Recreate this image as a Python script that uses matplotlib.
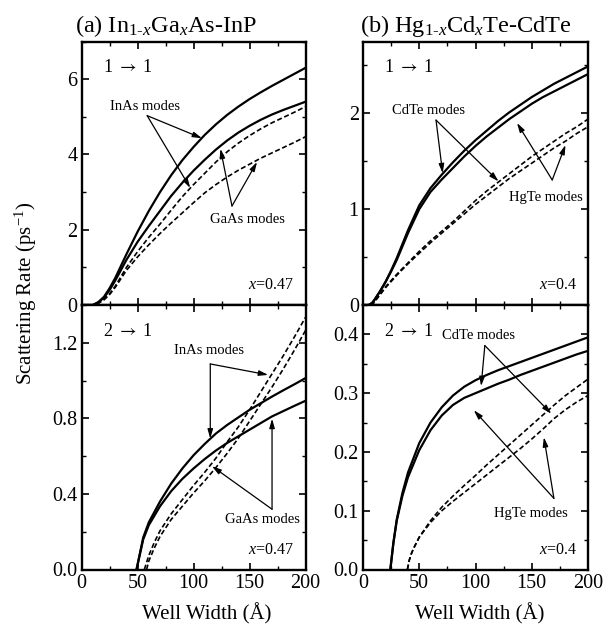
import matplotlib
matplotlib.use("Agg")
import matplotlib.pyplot as plt
from matplotlib.ticker import MultipleLocator

plt.rcParams['font.family'] = ['Liberation Serif', 'DejaVu Serif']
plt.rcParams['mathtext.fontset'] = 'custom'
plt.rcParams['mathtext.rm'] = 'Liberation Serif'
plt.rcParams['mathtext.it'] = 'Liberation Serif:italic'
plt.rcParams['mathtext.bf'] = 'Liberation Serif:bold'

# ---------------- data ----------------
# (a) In1-xGaxAs-InP, 1 -> 1
a11_x = [0, 10, 15, 20, 25, 30, 40, 50, 60, 70, 80, 90, 100, 110, 120, 130, 140, 150, 160, 170, 180, 190, 200]
a11_inas_solid = [0, 0, 0.08, 0.22, 0.45, 0.72, 1.35, 1.95, 2.5, 3.0, 3.45, 3.85, 4.2, 4.52, 4.8, 5.05, 5.27, 5.47, 5.65, 5.82, 5.98, 6.14, 6.3]
a11_gaas_solid = [0, 0, 0.07, 0.2, 0.4, 0.65, 1.2, 1.68, 2.1, 2.5, 2.9, 3.25, 3.57, 3.86, 4.13, 4.37, 4.58, 4.76, 4.92, 5.06, 5.18, 5.29, 5.4]
a11_inas_dash = [0, 0, 0.05, 0.15, 0.3, 0.5, 1.0, 1.42, 1.8, 2.15, 2.52, 2.88, 3.2, 3.5, 3.8, 4.07, 4.3, 4.5, 4.68, 4.84, 4.98, 5.12, 5.27]
a11_gaas_dash = [0, 0, 0.05, 0.14, 0.28, 0.47, 0.92, 1.28, 1.6, 1.9, 2.18, 2.45, 2.72, 2.98, 3.2, 3.4, 3.58, 3.74, 3.9, 4.04, 4.18, 4.32, 4.47]

# (a) 2 -> 1
a21_solid_x = [49, 55, 60, 70, 80, 90, 100, 110, 120, 130, 140, 150, 160, 170, 180, 190, 200]
a21_inas_solid = [0, 0.17, 0.25, 0.36, 0.455, 0.535, 0.605, 0.665, 0.72, 0.765, 0.805, 0.845, 0.88, 0.915, 0.948, 0.98, 1.013]
a21_gaas_solid = [0, 0.16, 0.235, 0.335, 0.415, 0.48, 0.535, 0.585, 0.63, 0.67, 0.705, 0.74, 0.775, 0.81, 0.838, 0.866, 0.893]
a21_inas_dash_x = [56, 60, 65, 70, 80, 90, 100, 110, 120, 130, 140, 150, 160, 170, 180, 190, 200]
a21_inas_dash = [0, 0.075, 0.145, 0.205, 0.295, 0.37, 0.445, 0.515, 0.59, 0.675, 0.755, 0.845, 0.94, 1.035, 1.13, 1.23, 1.335]
a21_gaas_dash_x = [58, 60, 65, 70, 80, 90, 100, 110, 120, 130, 140, 150, 160, 170, 180, 190, 200]
a21_gaas_dash = [0, 0.045, 0.115, 0.175, 0.265, 0.335, 0.405, 0.47, 0.54, 0.615, 0.695, 0.785, 0.875, 0.965, 1.06, 1.16, 1.265]

# (b) Hg1-xCdxTe-CdTe, 1 -> 1
b11_solid_x = [0, 5, 8, 10, 15, 20, 25, 30, 40, 50, 60, 70, 80, 90, 100, 110, 120, 130, 140, 150, 160, 170, 180, 190, 200]
b11_cdte_solid = [0, 0, 0.02, 0.05, 0.14, 0.24, 0.36, 0.49, 0.78, 1.04, 1.22, 1.36, 1.49, 1.61, 1.72, 1.82, 1.92, 2.01, 2.09, 2.17, 2.24, 2.31, 2.37, 2.43, 2.49]
b11_hgte_solid = [0, 0, 0.02, 0.05, 0.14, 0.24, 0.35, 0.47, 0.75, 1.0, 1.18, 1.31, 1.43, 1.55, 1.66, 1.76, 1.85, 1.94, 2.02, 2.1, 2.17, 2.23, 2.29, 2.35, 2.41]
b11_dash_x = [0, 5, 8, 10, 20, 30, 40, 50, 60, 70, 80, 90, 100, 110, 120, 130, 140, 150, 160, 170, 180, 190, 200]
b11_cdte_dash = [0, 0, 0, 0.03, 0.19, 0.32, 0.44, 0.56, 0.67, 0.77, 0.87, 0.98, 1.09, 1.19, 1.28, 1.37, 1.46, 1.55, 1.63, 1.71, 1.79, 1.86, 1.94]
b11_hgte_dash = [0, 0, 0, 0.03, 0.18, 0.31, 0.43, 0.54, 0.65, 0.75, 0.85, 0.95, 1.05, 1.14, 1.23, 1.32, 1.4, 1.48, 1.56, 1.64, 1.71, 1.79, 1.86]

# (b) 2 -> 1
b21_solid_x = [24.3, 27, 30, 35, 40, 50, 60, 70, 80, 90, 100, 110, 120, 130, 140, 150, 160, 170, 180, 190, 200]
b21_cdte_solid = [0, 0.045, 0.085, 0.13, 0.165, 0.215, 0.25, 0.276, 0.296, 0.311, 0.322, 0.331, 0.339, 0.346, 0.353, 0.36, 0.367, 0.374, 0.381, 0.388, 0.395]
b21_hgte_solid = [0, 0.045, 0.083, 0.125, 0.157, 0.203, 0.237, 0.262, 0.28, 0.292, 0.3, 0.308, 0.316, 0.323, 0.331, 0.338, 0.345, 0.352, 0.359, 0.366, 0.372]
b21_dash_x = [39.5, 41, 43, 45, 50, 60, 70, 80, 90, 100, 110, 120, 130, 140, 150, 160, 170, 180, 190, 200]
b21_cdte_dash = [0, 0.015, 0.027, 0.036, 0.055, 0.083, 0.106, 0.125, 0.143, 0.16, 0.178, 0.195, 0.212, 0.229, 0.246, 0.263, 0.28, 0.296, 0.31, 0.324]
b21_hgte_dash = [0, 0.015, 0.027, 0.036, 0.055, 0.08, 0.1, 0.116, 0.131, 0.146, 0.161, 0.176, 0.191, 0.206, 0.222, 0.239, 0.257, 0.272, 0.285, 0.296]

x_ticks = [0, 50, 100, 150, 200]
a11_yticks = [0, 2, 4, 6]
a21_yticks = [0.0, 0.4, 0.8, 1.2]
b11_yticks = [0, 1, 2]
b21_yticks = [0.0, 0.1, 0.2, 0.3, 0.4]

# ---------------- layout ----------------
W, H = 613, 631
fig = plt.figure(figsize=(W / 100, H / 100), dpi=100)


def rect(l, r, t, b):
    return [l / W, 1 - b / H, (r - l) / W, (b - t) / H]


ax_a1 = fig.add_axes(rect(81.7, 305.5, 41.5, 305))
ax_a2 = fig.add_axes(rect(81.7, 305.5, 305, 569.5))
ax_b1 = fig.add_axes(rect(363, 588, 41.5, 305))
ax_b2 = fig.add_axes(rect(363, 588, 305, 569.5))

SOLID = dict(color='black', lw=1.6, solid_capstyle='butt')
DASH = dict(color='black', lw=1.2, dashes=(3, 1.6))
ARROW = dict(arrowstyle='-|>,head_length=0.55,head_width=0.16', lw=0.9, color='black',
             shrinkA=0, shrinkB=0)
TFS = 14.5


def style(ax, ymax, yticks, fmt, minor, xlabels):
    ax.set_xlim(0, 200)
    ax.set_ylim(0, ymax)
    ax.set_xticks(x_ticks)
    ax.xaxis.set_minor_locator(MultipleLocator(25))
    ax.set_yticks(yticks)
    ax.set_yticklabels([fmt.format(v) for v in yticks])
    ax.yaxis.set_minor_locator(MultipleLocator(minor))
    ax.tick_params(which='both', direction='in', top=True, right=True, labelsize=TFS, pad=3)
    ax.tick_params(which='major', length=5, width=1.2)
    ax.tick_params(which='minor', length=3, width=1.0)
    if not xlabels:
        ax.tick_params(axis='x', labelbottom=False)
    for s in ax.spines.values():
        s.set_linewidth(1.7)


def arrows(ax, origin, tips):
    for t in tips:
        ax.annotate('', xy=t, xytext=origin, arrowprops=ARROW)


def label(ax, txt, xy):
    ax.text(xy[0], xy[1], txt, ha='center', va='center', fontsize=10.5)


# (a) top
ax = ax_a1
ax.plot(a11_x, a11_inas_solid, **SOLID)
ax.plot(a11_x, a11_gaas_solid, **SOLID)
ax.plot(a11_x, a11_inas_dash, **DASH)
ax.plot(a11_x, a11_gaas_dash, **DASH)
style(ax, 7, a11_yticks, '{:g}', 1, False)
label(ax, 'InAs modes', (56.7, 5.26))
arrows(ax, (58.5, 5.03), [(107.5, 4.43), (97, 3.11)])
label(ax, 'GaAs modes', (147.8, 2.28))
arrows(ax, (134.3, 2.63), [(124, 4.15), (156.7, 3.8)])

# (a) bottom
ax = ax_a2
ax.plot(a21_solid_x, a21_inas_solid, **SOLID)
ax.plot(a21_solid_x, a21_gaas_solid, **SOLID)
ax.plot(a21_inas_dash_x, a21_inas_dash, **DASH)
ax.plot(a21_gaas_dash_x, a21_gaas_dash, **DASH)
style(ax, 1.4, a21_yticks, '{:.1f}', 0.2, True)
label(ax, 'InAs modes', (113.4, 1.158))
arrows(ax, (114.9, 1.088), [(114.9, 0.693), (166.6, 1.03)])
label(ax, 'GaAs modes', (161.2, 0.263))
arrows(ax, (170.1, 0.319), [(170.1, 0.798), (116.4, 0.547)])

# (b) top
ax = ax_b1
ax.plot(b11_solid_x, b11_cdte_solid, **SOLID)
ax.plot(b11_solid_x, b11_hgte_solid, **SOLID)
ax.plot(b11_dash_x, b11_cdte_dash, **DASH)
ax.plot(b11_dash_x, b11_hgte_dash, **DASH)
style(ax, 2.75, b11_yticks, '{:g}', 0.5, False)
label(ax, 'CdTe modes', (58, 2.03))
arrows(ax, (64.9, 1.93), [(70.8, 1.375), (120.5, 1.29)])
label(ax, 'HgTe modes', (162.2, 1.125))
arrows(ax, (168.2, 1.305), [(136.9, 1.90), (180, 1.67)])

# (b) bottom
ax = ax_b2
ax.plot(b21_solid_x, b21_cdte_solid, **SOLID)
ax.plot(b21_solid_x, b21_hgte_solid, **SOLID)
ax.plot(b21_dash_x, b21_cdte_dash, **DASH)
ax.plot(b21_dash_x, b21_hgte_dash, **DASH)
style(ax, 0.45, b21_yticks, '{:.1f}', 0.05, True)
label(ax, 'CdTe modes', (103, 0.398))
arrows(ax, (108.3, 0.381), [(105, 0.312), (167.4, 0.265)])
label(ax, 'HgTe modes', (149, 0.0955))
arrows(ax, (169.7, 0.121), [(98.5, 0.271), (160.8, 0.225)])

# panel text
for ax, t in [(ax_a1, r'1 $\rightarrow$ 1'), (ax_b1, r'1 $\rightarrow$ 1'),
              (ax_a2, r'2 $\rightarrow$ 1'), (ax_b2, r'2 $\rightarrow$ 1')]:
    ax.text(0.095, 0.9, t, transform=ax.transAxes, ha='left', va='center', fontsize=13,
            math_fontfamily='stix')
for ax, t in [(ax_a1, r'$x$=0.47'), (ax_a2, r'$x$=0.47'), (ax_b1, r'$x$=0.4'), (ax_b2, r'$x$=0.4')]:
    ax.text(0.95, 0.075, t, transform=ax.transAxes, ha='right', va='center', fontsize=11.5)

# titles and axis labels
fig.text(75 / W, 1 - 32 / H, r'(a) In$_{\mathrm{1\text{-}}x}$Ga$_x$As-InP', ha='left',
         va='baseline', fontsize=17.5)
fig.text(360 / W, 1 - 32 / H, r'(b) Hg$_{\mathrm{1\text{-}}x}$Cd$_x$Te-CdTe', ha='left',
         va='baseline', fontsize=17.5)
fig.text(207 / W, 1 - 614 / H, 'Well Width (Å)', ha='center', va='center', fontsize=15)
fig.text(480 / W, 1 - 614 / H, 'Well Width (Å)', ha='center', va='center', fontsize=15)
fig.text(26 / W, 1 - 293 / H, r'Scattering Rate (ps$^{\mathrm{-1}}$)', ha='center', va='center',
         rotation=90, fontsize=15)

fig.savefig('out.png', dpi=100)
